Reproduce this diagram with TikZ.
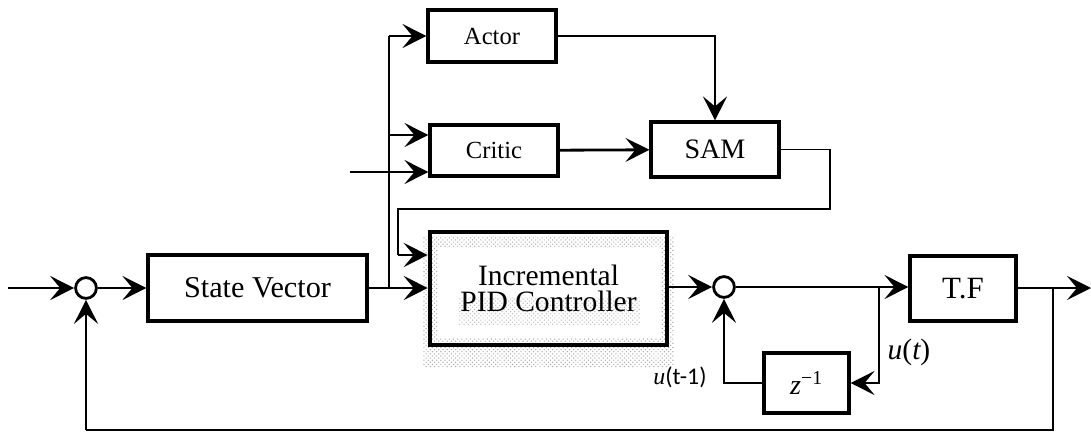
\documentclass[tikz,border=0pt]{standalone}
\usepackage{fontspec}
\setmainfont{Liberation Serif}
\newfontfamily\calibfont{Carlito}
\usetikzlibrary{arrows.meta,patterns}
\begin{document}
\begin{tikzpicture}[
  x=0.025cm, y=-0.025cm,
  line width=2pt,
  >={Stealth[length=17pt,width=17pt,inset=7pt]},
  block/.style = {shape=rectangle, draw, line width=2.2pt, fill=white,
    align=center, inner sep=0pt},
  sumnode/.style = {shape=circle, draw, line width=2pt, fill=white,
    minimum size=0.52cm, inner sep=0pt},
  thinline/.style = {line width=0.9pt},
  lbl/.style = {inner sep=1pt}
  ]
  \useasboundingbox (0,0) rectangle (1091,434);
  % shaded halo of the controller
  \fill[pattern=crosshatch dots, pattern color=gray!70] (423,236) rectangle (674,367);
  \fill[white] (438,248) rectangle (661,338);
  \fill[pattern=crosshatch dots, pattern color=gray!55] (458,297) rectangle (640,324);
  % blocks
  \node[sumnode] (sum1) at (86,288) {};
  \node[block, minimum width=5.475cm, minimum height=1.65cm,
    font=\fontsize{21.5}{23}\selectfont] (sv) at (257.5,288) {State Vector};
  \node[block, minimum width=3.2cm, minimum height=1.3cm,
    font=\fontsize{17.5}{20}\selectfont] (actor) at (492,36) {Actor};
  \node[block, minimum width=3.2cm, minimum height=1.275cm,
    font=\fontsize{17.5}{20}\selectfont] (critic) at (494,150.5) {Critic};
  \node[block, minimum width=3.2cm, minimum height=1.375cm,
    font=\fontsize{20}{22}\selectfont] (sam) at (715,149.5) {SAM};
  \node[block, fill=none, line width=3.2pt, minimum width=5.925cm,
    minimum height=2.825cm, font=\fontsize{21}{19}\selectfont]
    (pid) at (548.5,288.5) {Incremental\\PID Controller};
  \node[sumnode] (sum2) at (724,287) {};
  \node[block, minimum width=2.65cm, minimum height=1.625cm,
    font=\fontsize{22}{24}\selectfont] (tf) at (963,288.5) {T.F};
  \node[block, minimum width=2.125cm, minimum height=1.5cm,
    font=\fontsize{20}{22}\selectfont] (zinv) at (806.5,383)
    {\itshape z\textsuperscript{\upshape\char"2212 1}};
  % labels
  \node[lbl, font=\fontsize{21}{23}\selectfont] (ut) at (909,352)
    {\itshape u\upshape(\itshape t\upshape)};
  \node[lbl, font=\fontsize{17}{19}\selectfont] (utm) at (680,377)
    {\itshape u\calibfont\upshape(t-1)};
  % branch points and free ends
  \coordinate (in) at (8,288);
  \coordinate (out) at (1091,288);
  \coordinate (br1) at (389,288);
  \coordinate (br2) at (879,287);
  \coordinate (br3) at (1053,288);
  \coordinate (ext) at (350,172);
  \coordinate (loop1) at (830,209);
  \coordinate (loop2) at (398,209);
  \coordinate (fb) at (86,430);
  % connectors
  \draw[->] (in) -- (sum1);
  \draw[->] (sum1) -- (sv);
  \draw[->] (sv) -- (pid.west |- sv);
  \draw (br1) -- (br1 |- actor.west);
  \draw[->] (br1 |- actor.west) -- (actor.west);
  \draw[->] (br1 |- 0,135) -- (critic.west |- 0,135);
  \draw[->] (ext) -- (ext -| critic.west);
  \draw[->] (actor.east) -| (sam.north);
  \draw[->] (critic) -- (sam);
  \draw[thinline] (sam.east) -| (loop1) -- (loop2) -- (loop2 |- 0,255);
  \draw[->] (loop2 |- 0,255) -- (pid.west |- 0,255);
  \draw[->] (pid.east |- sum2) -- (sum2);
  \draw[->] (sum2) -- (tf.west |- sum2);
  \draw[->] (br2) |- (zinv.east);
  \draw[->] (zinv.west) -| (sum2.south);
  \draw[->] (tf.east |- out) -- (out);
  \draw[thinline] (br3) |- (fb);
  \draw[->] (fb) -- (sum1.south);
\end{tikzpicture}
\end{document}
